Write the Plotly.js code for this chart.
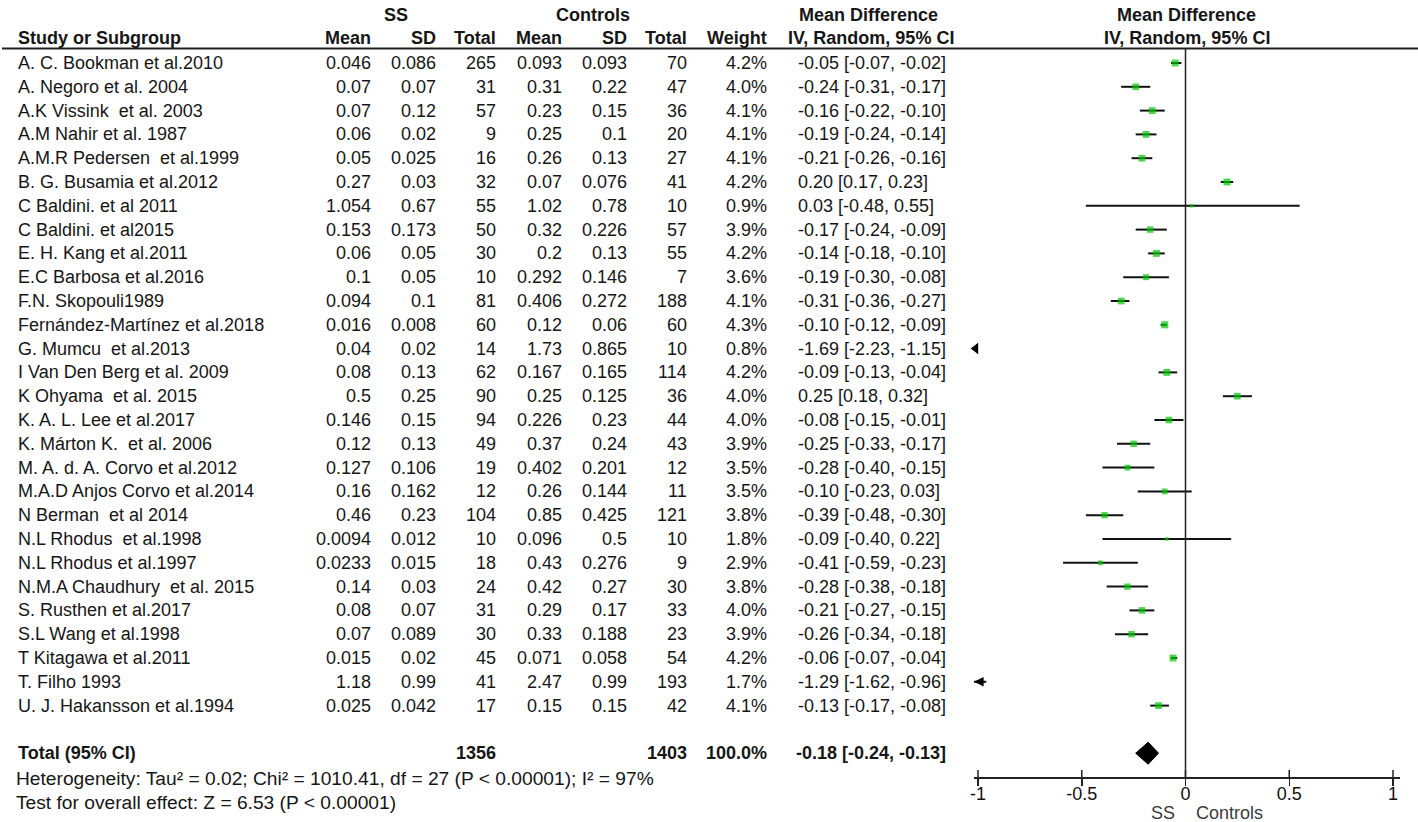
<!DOCTYPE html>
<html>
<head>
<meta charset="utf-8">
<script src="https://cdn.plot.ly/plotly-3.0.1.min.js"></script>
<style>html,body{margin:0;padding:0;background:#fff;}#chart{width:1418px;height:822px;}</style>
</head>
<body>
<div id="chart"></div>
<script>
const studies = ["A. C. Bookman et al.2010","A. Negoro et al. 2004","A.K Vissink  et al. 2003","A.M Nahir et al. 1987","A.M.R Pedersen  et al.1999","B. G. Busamia et al.2012","C Baldini. et al 2011","C Baldini. et al2015","E. H. Kang et al.2011","E.C Barbosa et al.2016","F.N. Skopouli1989","Fernández-Martínez et al.2018","G. Mumcu  et al.2013","I Van Den Berg et al. 2009","K Ohyama  et al. 2015","K. A. L. Lee et al.2017","K. Márton K.  et al. 2006","M. A. d. A. Corvo et al.2012","M.A.D Anjos Corvo et al.2014","N Berman  et al 2014","N.L Rhodus  et al.1998","N.L Rhodus et al.1997","N.M.A Chaudhury  et al. 2015","S. Rusthen et al.2017","S.L Wang et al.1998","T Kitagawa et al.2011","T. Filho 1993","U. J. Hakansson et al.1994"];
const ssMean = ["0.046","0.07","0.07","0.06","0.05","0.27","1.054","0.153","0.06","0.1","0.094","0.016","0.04","0.08","0.5","0.146","0.12","0.127","0.16","0.46","0.0094","0.0233","0.14","0.08","0.07","0.015","1.18","0.025"];
const ssSD = ["0.086","0.07","0.12","0.02","0.025","0.03","0.67","0.173","0.05","0.05","0.1","0.008","0.02","0.13","0.25","0.15","0.13","0.106","0.162","0.23","0.012","0.015","0.03","0.07","0.089","0.02","0.99","0.042"];
const ssTotal = [265,31,57,9,16,32,55,50,30,10,81,60,14,62,90,94,49,19,12,104,10,18,24,31,30,45,41,17];
const ctMean = ["0.093","0.31","0.23","0.25","0.26","0.07","1.02","0.32","0.2","0.292","0.406","0.12","1.73","0.167","0.25","0.226","0.37","0.402","0.26","0.85","0.096","0.43","0.42","0.29","0.33","0.071","2.47","0.15"];
const ctSD = ["0.093","0.22","0.15","0.1","0.13","0.076","0.78","0.226","0.13","0.146","0.272","0.06","0.865","0.165","0.125","0.23","0.24","0.201","0.144","0.425","0.5","0.276","0.27","0.17","0.188","0.058","0.99","0.15"];
const ctTotal = [70,47,36,20,27,41,10,57,55,7,188,60,10,114,36,44,43,12,11,121,10,9,30,33,23,54,193,42];
const weight = [4.2,4.0,4.1,4.1,4.1,4.2,0.9,3.9,4.2,3.6,4.1,4.3,0.8,4.2,4.0,4.0,3.9,3.5,3.5,3.8,1.8,2.9,3.8,4.0,3.9,4.2,1.7,4.1];
const md = [-0.05,-0.24,-0.16,-0.19,-0.21,0.20,0.03,-0.17,-0.14,-0.19,-0.31,-0.10,-1.69,-0.09,0.25,-0.08,-0.25,-0.28,-0.10,-0.39,-0.09,-0.41,-0.28,-0.21,-0.26,-0.06,-1.29,-0.13];
const ciLow = [-0.07,-0.31,-0.22,-0.24,-0.26,0.17,-0.48,-0.24,-0.18,-0.30,-0.36,-0.12,-2.23,-0.13,0.18,-0.15,-0.33,-0.40,-0.23,-0.48,-0.40,-0.59,-0.38,-0.27,-0.34,-0.07,-1.62,-0.17];
const ciHigh = [-0.02,-0.17,-0.10,-0.14,-0.16,0.23,0.55,-0.09,-0.10,-0.08,-0.27,-0.09,-1.15,-0.04,0.32,-0.01,-0.17,-0.15,0.03,-0.30,0.22,-0.23,-0.18,-0.15,-0.18,-0.04,-0.96,-0.08];
const totalSS = 1356, totalCt = 1403, totalWeight = "100.0%";
const totalMD = -0.18, totalLow = -0.24, totalHigh = -0.13;
const heterogeneityText = "Heterogeneity: Tau² = 0.02; Chi² = 1010.41, df = 27 (P < 0.00001); I² = 97%";
const overallText = "Test for overall effect: Z = 6.53 (P < 0.00001)";
const tickVals = [-1,-0.5,0,0.5,1];
const tickLabels = ["-1","-0.5","0","0.5","1"];
const favourLeft = "SS", favourRight = "Controls";

// ---- layout geometry ----
const W = 1418, H = 822;
const FONT = "Liberation Sans, Arial, sans-serif";
const FS = 18;
const TXT = "#161616";
const rowPx = 23.8, row0Px = 63, axisPx = 777;
const yTop = -row0Px/rowPx, yBottom = (axisPx-row0Px)/rowPx;
const xMin = -1 - 4/207.5, xMax = 1 + 7/207.5;
const headerLineY = (48.5-row0Px)/rowPx;
const hdr1Y = (15-row0Px)/rowPx, hdr2Y = (38-row0Px)/rowPx;
const totalRow = 29;

const fmt = v => v.toFixed(2);
const ciText = (m,l,h) => fmt(m) + " [" + fmt(l) + ", " + fmt(h) + "]";

const ann = [];
function t(xpx, y, text, anchor, bold, size, color){
  ann.push({xref:'paper', yref:'y', x:xpx/W, y:y, text: bold ? '<b>'+text+'</b>' : text,
    xanchor:anchor, yanchor:'middle', showarrow:false, borderpad:0,
    font:{family:FONT, size:size||FS, color:color||TXT}});
}
function tp(xpx, ypx, text, anchor, size, color){
  ann.push({xref:'paper', yref:'paper', x:xpx/W, y:(H-ypx)/H, text:text,
    xanchor:anchor, yanchor:'middle', showarrow:false, borderpad:0,
    font:{family:FONT, size:size||FS, color:color||TXT}});
}
// headers
t(396, hdr1Y, "SS", 'center', true);
t(593, hdr1Y, "Controls", 'center', true);
t(868, hdr1Y, "Mean Difference", 'center', true);
t(1186, hdr1Y, "Mean Difference", 'center', true);
t(17, hdr2Y, "Study or Subgroup", 'left', true);
t(372, hdr2Y, "Mean", 'right', true);
t(437, hdr2Y, "SD", 'right', true);
t(497, hdr2Y, "Total", 'right', true);
t(563, hdr2Y, "Mean", 'right', true);
t(628, hdr2Y, "SD", 'right', true);
t(688, hdr2Y, "Total", 'right', true);
t(768, hdr2Y, "Weight", 'right', true);
t(871, hdr2Y, "IV, Random, 95% CI", 'center', true);
t(1187, hdr2Y, "IV, Random, 95% CI", 'center', true);
// rows
studies.forEach((s,i)=>{
  t(17, i, s, 'left');
  t(372, i, ssMean[i], 'right');
  t(437, i, ssSD[i], 'right');
  t(497, i, String(ssTotal[i]), 'right');
  t(563, i, ctMean[i], 'right');
  t(628, i, ctSD[i], 'right');
  t(688, i, String(ctTotal[i]), 'right');
  t(768, i, weight[i].toFixed(1)+"%", 'right');
  t(797, i, ciText(md[i], ciLow[i], ciHigh[i]), 'left');
});
// totals
t(17, totalRow, "Total (95% CI)", 'left', true);
t(497, totalRow, String(totalSS), 'right', true);
t(688, totalRow, String(totalCt), 'right', true);
t(768, totalRow, totalWeight, 'right', true);
t(795, totalRow, ciText(totalMD, totalLow, totalHigh), 'left', true);
tp(15, 778, heterogeneityText, 'left', 19.2);
tp(15, 802, overallText, 'left', 19.2);
// favours labels
ann.push({xref:'x', yref:'paper', x:-0.04, y:(H-813)/H, text:favourLeft, xanchor:'right', yanchor:'middle', showarrow:false, font:{family:FONT,size:FS,color:'#3a3a3a'}});
ann.push({xref:'x', yref:'paper', x:0.043, y:(H-813)/H, text:favourRight, xanchor:'left', yanchor:'middle', showarrow:false, font:{family:FONT,size:FS,color:'#3a3a3a'}});

// ---- traces ----
const lx = [], ly = [];
studies.forEach((s,i)=>{ lx.push(ciLow[i], ciHigh[i], null); ly.push(i,i,null); });
const ciTrace = {x:lx, y:ly, mode:'lines', type:'scatter', line:{color:'#111', width:2}, hoverinfo:'skip'};

const idx = studies.map((s,i)=>i);
const vis = idx.filter(i=>md[i]>=-1 && md[i]<=1);
const ptTrace = {x:vis.map(i=>md[i]), y:vis, mode:'markers', type:'scatter',
  marker:{symbol:'square', color:'#00c800', size:vis.map(i=>Math.max(3.5, 1.65*weight[i])), line:{width:0}}, hoverinfo:'skip'};

// whole CI beyond the left edge: solid triangle
const fullOff = idx.filter(i=>ciHigh[i] < -1);
const triTrace = {x:fullOff.map(i=>xMin+0.008), y:fullOff, mode:'markers', type:'scatter', cliponaxis:false,
  marker:{symbol:'triangle-left', size:10, color:'#000', line:{width:0}}, hoverinfo:'skip'};
// CI crossing the left edge: arrow head on the clipped line
const partOff = idx.filter(i=>ciLow[i] < -1 && ciHigh[i] >= -1);
partOff.forEach(i=>ann.push({xref:'x', yref:'y', x:xMin, y:i, axref:'x', ayref:'y', ax:ciHigh[i], ay:i,
  text:'', showarrow:true, arrowhead:2, arrowsize:1.2, arrowwidth:1.6, arrowcolor:'#000', standoff:0, startstandoff:0}));

const dh = 11/rowPx;
const diamond = {x:[totalLow, totalMD, totalHigh, totalMD, totalLow], y:[totalRow, totalRow-dh, totalRow, totalRow+dh, totalRow],
  mode:'lines', type:'scatter', fill:'toself', fillcolor:'#000', line:{color:'#000', width:1}, hoverinfo:'skip'};

// ---- shapes ----
const shapes = [
  {type:'line', xref:'paper', yref:'y', x0:2/W, x1:1, y0:headerLineY, y1:headerLineY, line:{color:'#222', width:2}},
  {type:'line', xref:'x', yref:'y', x0:0, x1:0, y0:headerLineY, y1:yBottom, line:{color:'#222', width:1.5}}
];
tickVals.forEach(v=>shapes.push({type:'line', xref:'x', yref:'y', x0:v, x1:v, y0:yBottom, y1:yBottom-7/rowPx, line:{color:'#222', width:1.5}}));

const layout = {
  width:W, height:H, margin:{l:0,r:0,t:0,b:0}, paper_bgcolor:'#fff', plot_bgcolor:'rgba(0,0,0,0)',
  showlegend:false,
  xaxis:{domain:[974/W, 1400/W], range:[xMin, xMax], showgrid:false, zeroline:false, showline:true, linecolor:'#222', linewidth:1.5,
    ticks:'outside', ticklen:7, tickwidth:1.5, tickcolor:'#222', tickvals:tickVals, ticktext:tickLabels, ticklabelstandoff:-7,
    tickfont:{family:FONT, size:FS, color:'#111'}, fixedrange:true, anchor:'y'},
  yaxis:{domain:[(H-axisPx)/H, 1], range:[yBottom, yTop], visible:false, fixedrange:true},
  annotations:ann, shapes:shapes
};
Plotly.newPlot('chart', [ciTrace, ptTrace, triTrace, diamond], layout, {displayModeBar:false, staticPlot:true});
</script>
</body>
</html>
